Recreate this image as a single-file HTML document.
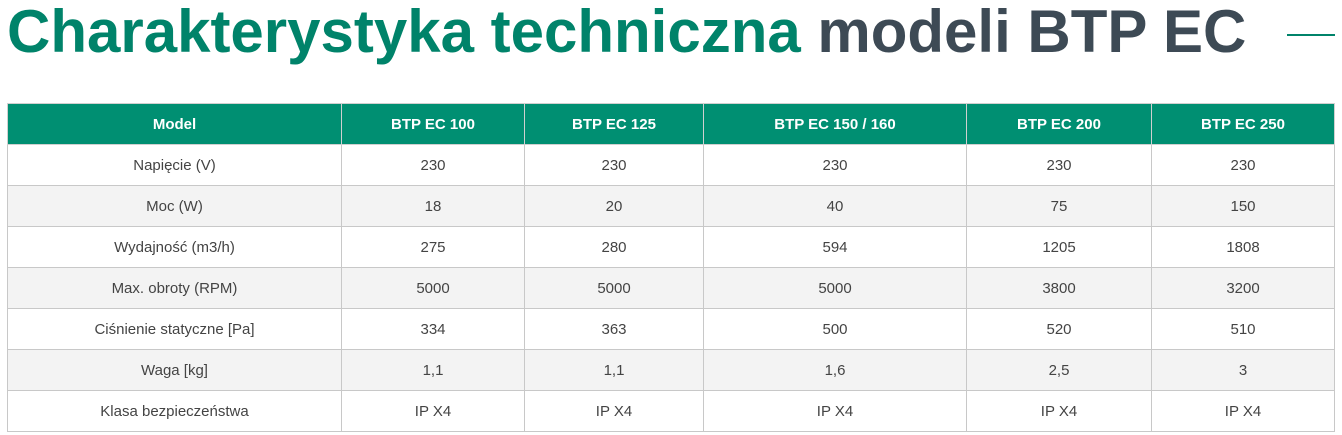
<!DOCTYPE html>
<html><head><meta charset="utf-8"><style>
body{margin:0;width:1342px;height:435px;background:#fff;overflow:hidden;font-family:"Liberation Sans",sans-serif;}
h1{position:absolute;left:7px;top:-3px;margin:0;font-size:60px;font-weight:bold;white-space:nowrap;letter-spacing:0px;}
.g{color:#00836a}.d{color:#3d4a55}
.line{position:absolute;left:1287px;top:34px;width:48px;height:2px;background:#00836a}
table{position:absolute;left:7px;top:103px;border-collapse:collapse;table-layout:fixed;width:1327px}
td,th{border:1px solid #c8c8c8;height:40px;padding:0;text-align:center;font-size:15px;color:#444;}
th{background:#008f72;color:#fff;font-weight:bold;border-color:#d0d0d0}
tr:nth-child(odd) td{background:#f3f3f3}
</style></head><body>
<h1><span class="g">Charakterystyka techniczna</span> <span class="d">modeli BTP EC</span></h1>
<div class="line"></div>
<table>
<colgroup><col style="width:334px"><col style="width:183px"><col style="width:179px"><col style="width:263px"><col style="width:185px"><col style="width:183px"></colgroup>
<tr><th>Model</th><th>BTP EC 100</th><th>BTP EC 125</th><th>BTP EC 150 / 160</th><th>BTP EC 200</th><th>BTP EC 250</th></tr>
<tr><td>Napięcie (V)</td><td>230</td><td>230</td><td>230</td><td>230</td><td>230</td></tr>
<tr><td>Moc (W)</td><td>18</td><td>20</td><td>40</td><td>75</td><td>150</td></tr>
<tr><td>Wydajność (m3/h)</td><td>275</td><td>280</td><td>594</td><td>1205</td><td>1808</td></tr>
<tr><td>Max. obroty (RPM)</td><td>5000</td><td>5000</td><td>5000</td><td>3800</td><td>3200</td></tr>
<tr><td>Ciśnienie statyczne [Pa]</td><td>334</td><td>363</td><td>500</td><td>520</td><td>510</td></tr>
<tr><td>Waga [kg]</td><td>1,1</td><td>1,1</td><td>1,6</td><td>2,5</td><td>3</td></tr>
<tr><td>Klasa bezpieczeństwa</td><td>IP X4</td><td>IP X4</td><td>IP X4</td><td>IP X4</td><td>IP X4</td></tr>
</table>
</body></html>
